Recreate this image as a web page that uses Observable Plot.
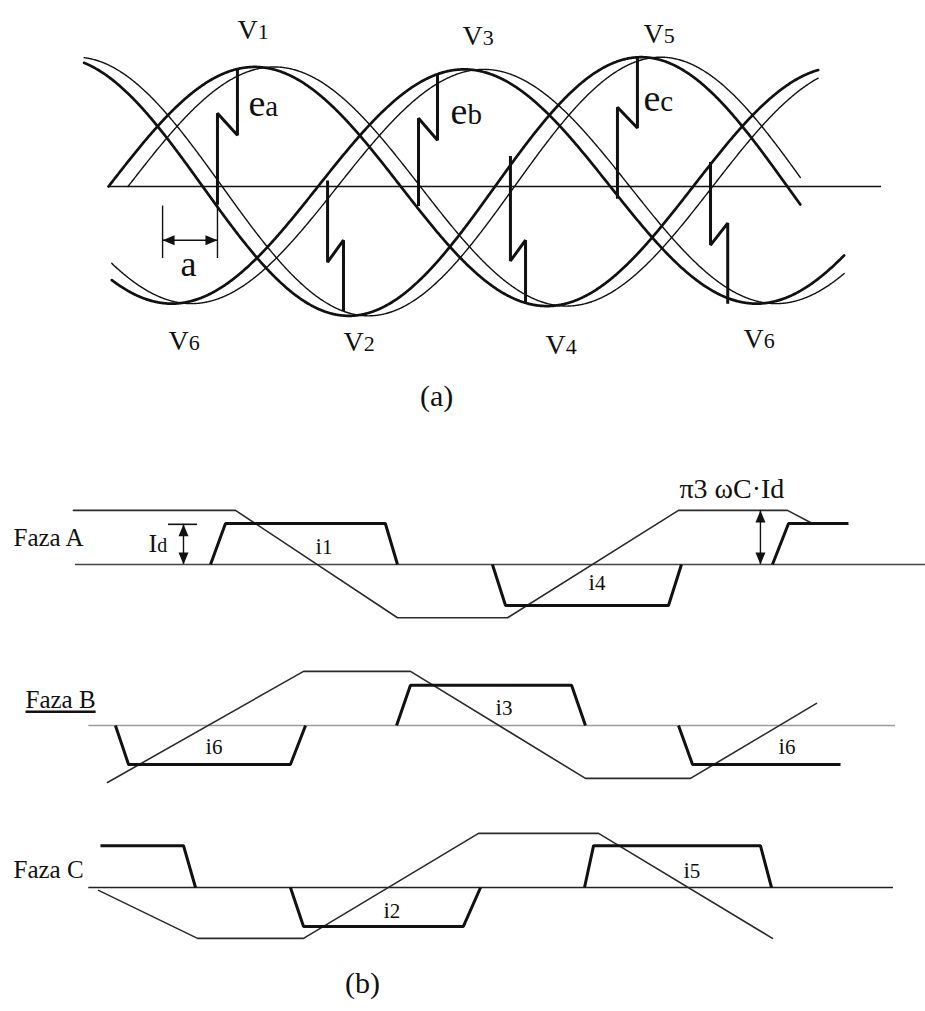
<!DOCTYPE html>
<html><head><meta charset="utf-8">
<script src="https://cdn.jsdelivr.net/npm/d3@7"></script>
<script src="https://cdn.jsdelivr.net/npm/@observablehq/plot@0.6"></script>
<style>
body{margin:0;background:#fff;}
#root{position:relative;width:925px;height:1011px;font-family:"Liberation Serif",serif;}
.panel{position:absolute;left:0;overflow:visible;}
.panel text{font-family:"Liberation Serif",serif;}
.cap{position:absolute;font-family:"Liberation Serif",serif;font-size:30px;color:#111;line-height:1;}
</style></head><body><div id="root"></div>
<script>
// ---------------- Panel (a): three-phase voltages (x = ωt in degrees, y = per-unit voltage)
const phases = ["A", "B", "C"];
const phaseZeroDeg = [0, 129, 238];          // rising zero crossing of the leading (thick) curve
const phaseAmp = [0.98, 0.96, 1.06];
const laggedShiftDeg = 12;                   // thin companion curve lags by this angle
const leadSpan = [[0, 437], [2, 453], [-15, 426]];
const lagSpan = [[12, 437], [2, 453], [-15, 426]];
const axisASpan = [0, 476];

const stepNames = ["V1", "V3", "V5", "V2", "V4", "V6"];
const stepTheta = [
  [67.1, 67.1, 79.4, 79.4],
  [190.9, 190.9, 202.6, 202.6],
  [313.4, 313.4, 325.7, 325.7],
  [134.9, 134.9, 144.7, 144.7],
  [247.5, 247.5, 256.8, 256.8],
  [370.7, 370.7, 381.3, 381.3]
];
const stepV = [
  [-0.15, 0.60, 0.42, 0.965],
  [-0.16, 0.56, 0.38, 0.92],
  [-0.10, 0.65, 0.48, 1.06],
  [0.05, -0.62, -0.44, -1.02],
  [0.25, -0.61, -0.44, -0.96],
  [0.20, -0.48, -0.30, -0.96]
];
const alphaTheta = [33.3, 67.1];
const alphaTickTop = [-0.16, -0.15];
const alphaTickBottom = [-0.59, -0.59];
const alphaArrowV = -0.44;

const voltLabels = ["V|1", "V|3", "V|5", "V|6", "V|2", "V|4", "V|6"];
const voltLabelTheta = [79.4, 218, 329.4, 36.9, 144.7, 269.1, 391];
const voltLabelV = [1.213, 1.156, 1.18, -1.344, -1.352, -1.369, -1.32];
const emfLabels = ["e|a", "e|b", "e|c"];
const emfLabelTheta = [86.2, 210.6, 329.4];
const emfLabelV = [0.582, 0.516, 0.623];
const alphaLabel = ["a"];
const alphaLabelTheta = [44.3];
const alphaLabelV = [-0.73];

// ---------------- Panel (b): phase currents and capacitor voltages (x = ωt in degrees, y in units of Id)
const fazaA_capTheta = [-87.8, 16, 119.8, 190.3, 299.8, 369.6, 385.6];
const fazaA_capVal = [1.32, 1.32, -1.30, -1.30, 1.32, 1.32, 1.0];
const fazaA_curTheta = [[0, 9.6, 112, 119.8], [180.6, 189, 293.4, 301.7], [360, 370.3, 408.7]];
const fazaA_curVal = [[0, 1, 1, 0], [0, -1, -1, 0], [0, 1, 1]];
const fazaA_axis = [-86.5, 458];

const fazaB_capTheta = [-66, 59.6, 128.1, 240.2, 307.5, 388.2];
const fazaB_capVal = [-1.39, 1.32, 1.32, -1.29, -1.29, 0.54];
const fazaB_curTheta = [[-60.9, -52.5, 51.2, 60.9], [119.2, 128.1, 231.3, 240.2], [299.8, 308.8, 403.6]];
const fazaB_curVal = [[0, -0.95, -0.95, 0], [0, 0.98, 0.98, 0], [0, -0.95, -0.95]];
const fazaB_axis = [-78, 438.8];

const fazaC_capTheta = [-71.7, -8.3, 59.6, 171.7, 248.6, 360];
const fazaC_capVal = [-0.07, -1.24, -1.24, 1.32, 1.32, -1.24];
const fazaC_curTheta = [[-70.5, -17.3, -9.6], [51.2, 59.6, 162, 173], [239.6, 245.4, 352.3, 359.4]];
const fazaC_curVal = [[1.02, 1.02, 0], [0, -0.95, -0.95, 0], [0, 1.02, 1.02, 0]];
const fazaC_axis = [-78, 437.5];

const fazaLabels = ["Faza A", "Faza B", "Faza C"];
const fazaLabelTheta = [-126.2, -118.5, -126.2];
const fazaLabelVal = [0.463, 0.415, 0.22];

const fazaA_curLabels = ["i|1", "i|4"];
const fazaA_curLabelTheta = [67.3, 242.2];
const fazaA_curLabelVal = [0.268, -0.634];
const fazaB_curLabels = ["i|6", "i|3", "i|6"];
const fazaB_curLabelTheta = [-3.2, 182.6, 363.9];
const fazaB_curLabelVal = [-0.683, 0.244, -0.683];
const fazaC_curLabels = ["i|2", "i|5"];
const fazaC_curLabelTheta = [110.8, 303];
const fazaC_curLabelVal = [-0.732, 0.244];

const idTickTheta = [-26.9, -8.3];
const idLevel = 0.98;
const idArrowTheta = -17.3;
const capArrowTheta = 352.3;
const capLevel = 1.32;
const idLabel = ["I|d"];
const idLabelTheta = [-39.7];
const idLabelVal = [0.293];
const capLabel = ["π3 ωC·Id"];
const capLabelTheta = [300.4];
const capLabelVal = [1.61];

// ---------------- helpers
const INK = "#111";
const FONT = "Liberation Serif";
const subSizes = {V: [28, 22], e: [38, 29], i: [23, 21], I: [26, 20]};
function tipSymbol(dx, dy) {
  return {draw(ctx, size) {
    const r = Math.sqrt(size / Math.PI), h = 2.4 * r, w = r;
    const bx = -dx * h, by = -dy * h, px = -dy * w, py = dx * w;
    ctx.moveTo(0, 0); ctx.lineTo(bx + px, by + py); ctx.lineTo(bx - px, by - py); ctx.closePath();
  }};
}
const UP = tipSymbol(0, -1), DOWN = tipSymbol(0, 1), LEFT = tipSymbol(-1, 0), RIGHT = tipSymbol(1, 0);

function zipLabels(texts, xs, ys) { return texts.map((t, i) => ({t, x: xs[i], y: ys[i]})); }
function segs(thetas, vals, tag) {
  const out = [];
  thetas.forEach((ts, i) => ts.forEach((t, j) => out.push({seg: tag + i, theta: t, v: vals[i][j]})));
  return out;
}
function finishText(svg) {
  const ns = "http://www.w3.org/2000/svg";
  svg.querySelectorAll("text").forEach(t => {
    t.setAttribute("font-family", FONT);
    const s = t.textContent;
    if (s.startsWith("Faza B")) t.setAttribute("text-decoration", "underline");
    if (!s.includes("|")) return;
    const parts = s.split("|");
    const [mainSize, subSize] = subSizes[parts[0]] || [24, 18];
    t.textContent = "";
    const a = document.createElementNS(ns, "tspan"); a.textContent = parts[0]; a.setAttribute("font-size", mainSize); t.appendChild(a);
    const b = document.createElementNS(ns, "tspan"); b.textContent = parts[1]; b.setAttribute("font-size", subSize); t.appendChild(b);
  });
}
const root = document.getElementById("root");
function place(svg, top) { finishText(svg); svg.classList.add("panel"); svg.style.top = top + "px"; root.appendChild(svg); }
const txt = (data, size) => Plot.text(data, {x: "x", y: "y", text: "t", textAnchor: "start", lineAnchor: "bottom", fill: INK, fontSize: size, fontFamily: FONT});

// ---------------- build panel (a)
const curvePts = [];
phases.forEach((p, i) => {
  [["lead", 0, leadSpan[i]], ["lag", laggedShiftDeg, lagSpan[i]]].forEach(([kind, sh, span]) => {
    const [s, e] = span;
    const n = Math.round((e - s) / 0.5);
    for (let k = 0; k <= n; k++) {
      const t = s + (e - s) * k / n;
      curvePts.push({id: p + kind, kind, theta: t, v: phaseAmp[i] * Math.sin((t - phaseZeroDeg[i] - sh) * Math.PI / 180)});
    }
  });
});
const stepPts = segs(stepTheta, stepV, "step");
const alphaTicks = alphaTheta.map((t, i) => ({theta: t, y1: alphaTickTop[i], y2: alphaTickBottom[i]}));

const plotA = Plot.plot({
  width: 925, height: 370, margin: 0,
  x: {domain: [-66.50, 503.08], axis: null},
  y: {domain: [-1.508, 1.5246], axis: null},
  style: {fontFamily: FONT, background: "transparent", overflow: "visible"},
  marks: [
    Plot.ruleY([0], {x1: axisASpan[0], x2: axisASpan[1], stroke: INK, strokeWidth: 1.3}),
    Plot.line(curvePts.filter(d => d.kind === "lag"), {x: "theta", y: "v", z: "id", stroke: INK, strokeWidth: 1.4}),
    Plot.line(curvePts.filter(d => d.kind === "lead"), {x: "theta", y: "v", z: "id", stroke: INK, strokeWidth: 2.7}),
    Plot.line(stepPts, {x: "theta", y: "v", z: "seg", stroke: INK, strokeWidth: 3, strokeLinejoin: "miter", strokeLinecap: "butt"}),
    Plot.ruleX(alphaTicks, {x: "theta", y1: "y1", y2: "y2", stroke: INK, strokeWidth: 1.4}),
    Plot.ruleY([alphaArrowV], {x1: alphaTheta[0], x2: alphaTheta[1], stroke: INK, strokeWidth: 1.6}),
    Plot.dot([{x: alphaTheta[0], y: alphaArrowV}], {x: "x", y: "y", symbol: LEFT, r: 5, fill: INK, stroke: "none"}),
    Plot.dot([{x: alphaTheta[1], y: alphaArrowV}], {x: "x", y: "y", symbol: RIGHT, r: 5, fill: INK, stroke: "none"}),
    txt(zipLabels(voltLabels, voltLabelTheta, voltLabelV), 28),
    txt(zipLabels(emfLabels, emfLabelTheta, emfLabelV), 38),
    txt(zipLabels(alphaLabel, alphaLabelTheta, alphaLabelV), 36)
  ]
});
place(plotA, 0);

const capA = document.createElement("div"); capA.className = "cap"; capA.textContent = "(a)";
capA.style.left = "420px"; capA.style.top = "381px"; root.appendChild(capA);

// ---------------- build panel (b)
const xB = [-134.53, 458.04];
function phasePlot(o) {
  const marks = [
    Plot.ruleY([0], {x1: o.axis[0], x2: o.axis[1], stroke: o.axisColor, strokeWidth: 1.6}),
    Plot.line(o.capTheta.map((t, i) => ({theta: t, v: o.capVal[i]})), {x: "theta", y: "v", stroke: "#2a2a2a", strokeWidth: 1.6}),
    Plot.line(segs(o.curTheta, o.curVal, "i"), {x: "theta", y: "v", z: "seg", stroke: INK, strokeWidth: 3, strokeLinejoin: "miter", strokeLinecap: "butt"}),
    txt([{t: o.faza, x: o.fazaTheta, y: o.fazaVal}], 25),
    txt(zipLabels(o.curLabels, o.curLabelTheta, o.curLabelVal), 23)
  ].concat(o.extra || []);
  return Plot.plot({
    width: 925, height: o.h, margin: 0,
    x: {domain: xB, axis: null},
    y: {domain: o.yDomain, axis: null},
    style: {fontFamily: FONT, background: "transparent", overflow: "visible"},
    marks
  });
}

const extraA = [
  Plot.ruleY([idLevel], {x1: idTickTheta[0], x2: idTickTheta[1], stroke: INK, strokeWidth: 1.6}),
  Plot.ruleX([idArrowTheta], {y1: 0, y2: idLevel, stroke: INK, strokeWidth: 1.4}),
  Plot.ruleX([capArrowTheta], {y1: 0, y2: capLevel, stroke: INK, strokeWidth: 1.4}),
  Plot.dot([{x: idArrowTheta, y: idLevel}, {x: capArrowTheta, y: capLevel}], {x: "x", y: "y", symbol: UP, r: 5, fill: INK, stroke: "none"}),
  Plot.dot([{x: idArrowTheta, y: 0}, {x: capArrowTheta, y: 0}], {x: "x", y: "y", symbol: DOWN, r: 5, fill: INK, stroke: "none"}),
  txt(zipLabels(idLabel, idLabelTheta, idLabelVal), 26),
  txt(zipLabels(capLabel, capLabelTheta, capLabelVal), 28)
];

const pA = phasePlot({h: 170, yDomain: [-1.854, 2.293], axis: fazaA_axis, axisColor: "#444",
  capTheta: fazaA_capTheta, capVal: fazaA_capVal, curTheta: fazaA_curTheta, curVal: fazaA_curVal,
  faza: fazaLabels[0], fazaTheta: fazaLabelTheta[0], fazaVal: fazaLabelVal[0],
  curLabels: fazaA_curLabels, curLabelTheta: fazaA_curLabelTheta, curLabelVal: fazaA_curLabelVal, extra: extraA});
place(pA, 470);

const pB = phasePlot({h: 160, yDomain: [-1.951, 1.951], axis: fazaB_axis, axisColor: "#9a9a9a",
  capTheta: fazaB_capTheta, capVal: fazaB_capVal, curTheta: fazaB_curTheta, curVal: fazaB_curVal,
  faza: fazaLabels[1], fazaTheta: fazaLabelTheta[1], fazaVal: fazaLabelVal[1],
  curLabels: fazaB_curLabels, curLabelTheta: fazaB_curLabelTheta, curLabelVal: fazaB_curLabelVal});
place(pB, 645);

const pC = phasePlot({h: 160, yDomain: [-2.024, 1.878], axis: fazaC_axis, axisColor: "#222",
  capTheta: fazaC_capTheta, capVal: fazaC_capVal, curTheta: fazaC_curTheta, curVal: fazaC_curVal,
  faza: fazaLabels[2], fazaTheta: fazaLabelTheta[2], fazaVal: fazaLabelVal[2],
  curLabels: fazaC_curLabels, curLabelTheta: fazaC_curLabelTheta, curLabelVal: fazaC_curLabelVal});
place(pC, 810);

const capB = document.createElement("div"); capB.className = "cap"; capB.textContent = "(b)";
capB.style.left = "345px"; capB.style.top = "968px"; root.appendChild(capB);
</script></body></html>
